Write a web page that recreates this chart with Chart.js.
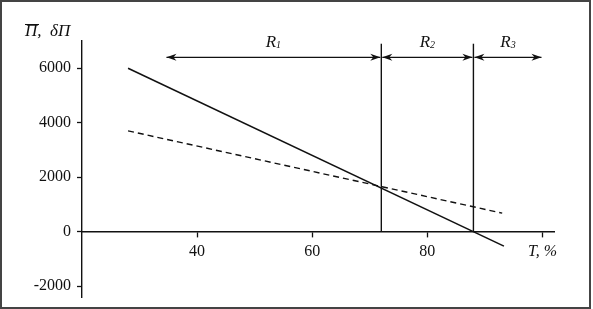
<!DOCTYPE html>
<html>
<head>
<meta charset="utf-8">
<script src="https://cdn.jsdelivr.net/npm/chart.js@4.4.0/dist/chart.umd.min.js"></script>
<style>
    html, body { margin: 0; padding: 0; background: #fff; }
    #wrap { width: 593px; height: 309px; }
</style>
</head>
<body>
<div id="wrap"><canvas id="chart" width="593" height="309"></canvas></div>
<script>
// Values
const tLine = [28, 93.3];
const avgProfit = [6000, -530];      // solid line
const tDash = [28, 93];
const deltaProfit = [3700, 680];     // dashed line
const boundaries = [72, 88];
const boundaryTop = 6900;
const zones = [[34.5, 72], [72, 88], [88, 100]];
const zoneNames = ['1', '2', '3'];
const zoneArrowY = 6400;
const xTicks = [40, 60, 80, 100];
const yTicks = [-2000, 0, 2000, 4000, 6000];

const serif = "'Liberation Serif', 'Times New Roman', serif";
const ink = '#111';

function toPoints(xs, ys) {
    return xs.map((x, i) => ({ x: x, y: ys[i] }));
}

const datasets = [
    {
        data: toPoints(tLine, avgProfit),
        borderColor: ink,
        borderWidth: 1.5,
        pointRadius: 0
    },
    {
        data: toPoints(tDash, deltaProfit),
        borderColor: ink,
        borderWidth: 1.4,
        borderDash: [6, 4],
        pointRadius: 0
    }
];
boundaries.forEach(b => {
    datasets.push({
        data: [{ x: b, y: 0 }, { x: b, y: boundaryTop }],
        borderColor: ink,
        borderWidth: 1.4,
        pointRadius: 0
    });
});

// Frame, zone arrows and labels
const decorPlugin = {
    id: 'decor',
    beforeDraw(chart) {
        const ctx = chart.ctx;
        ctx.save();
        ctx.fillStyle = '#fff';
        ctx.fillRect(0, 0, chart.width, chart.height);
        ctx.restore();
    },
    afterDraw(chart) {
        const ctx = chart.ctx;
        const xs = chart.scales.x;
        const ys = chart.scales.y;
        ctx.save();

        // outer frame
        ctx.strokeStyle = '#444';
        ctx.lineWidth = 2;
        ctx.strokeRect(1, 1, chart.width - 4, chart.height - 2);

        // zone arrows
        const ay = ys.getPixelForValue(zoneArrowY);
        ctx.strokeStyle = ink;
        ctx.fillStyle = ink;
        ctx.lineWidth = 1.4;
        zones.forEach((z, i) => {
            const x1 = xs.getPixelForValue(z[0]) + 1;
            const x2 = xs.getPixelForValue(z[1]) - 1;
            ctx.beginPath();
            ctx.moveTo(x1, ay);
            ctx.lineTo(x2, ay);
            ctx.stroke();
            [[x1, 1], [x2, -1]].forEach(([tx, dir]) => {
                ctx.beginPath();
                ctx.moveTo(tx, ay);
                ctx.lineTo(tx + dir * 10, ay - 3.5);
                ctx.lineTo(tx + dir * 7, ay);
                ctx.lineTo(tx + dir * 10, ay + 3.5);
                ctx.closePath();
                ctx.fill();
            });

            // label R with subscript
            const cx = (x1 + x2) / 2;
            ctx.font = 'italic 17px ' + serif;
            ctx.textBaseline = 'alphabetic';
            const wR = ctx.measureText('R').width;
            ctx.font = 'italic 10px ' + serif;
            const wS = ctx.measureText(zoneNames[i]).width;
            const left = cx - (wR + wS) / 2;
            ctx.font = 'italic 17px ' + serif;
            ctx.textAlign = 'left';
            ctx.fillText('R', left, ay - 10);
            ctx.font = 'italic 10px ' + serif;
            ctx.fillText(zoneNames[i], left + wR, ay - 9);
        });

        // axis title
        ctx.font = 'italic 17px ' + serif;
        ctx.textAlign = 'left';
        ctx.fillStyle = ink;
        ctx.fillText('\u03A0,', 25, 36);
        ctx.fillText('\u03B4\u03A0', 50, 36);
        ctx.beginPath();
        ctx.lineWidth = 1;
        ctx.moveTo(25, 24.5);
        ctx.lineTo(39, 24.5);
        ctx.stroke();

        ctx.restore();
    }
};

new Chart(document.getElementById('chart'), {
    type: 'line',
    data: { datasets: datasets },
    options: {
        responsive: false,
        animation: false,
        devicePixelRatio: 1,
        layout: { padding: { top: 41, right: 39, bottom: 12, left: 0 } },
        plugins: {
            legend: { display: false },
            tooltip: { enabled: false }
        },
        scales: {
            x: {
                type: 'linear',
                min: 20,
                max: 102,
                position: { y: 0 },
                afterBuildTicks: s => { s.ticks = xTicks.map(v => ({ value: v })); },
                afterFit: s => { s.height = 0; s.paddingLeft = 0; s.paddingRight = 0; },
                grid: { drawOnChartArea: false, drawTicks: true, tickLength: 5, tickColor: ink, tickWidth: 1.3 },
                border: { display: true, color: ink, width: 1.4 },
                ticks: {
                    padding: 6,
                    color: ink,
                    maxRotation: 0,
                    font: c => (c.tick && c.tick.value === 100)
                        ? { family: serif, size: 16, style: 'italic' }
                        : { family: serif, size: 16 },
                    callback: v => v === 100 ? 'T, %' : String(v)
                }
            },
            y: {
                type: 'linear',
                min: -2400,
                max: 7000,
                position: 'left',
                afterFit: s => { s.width = 82; s.paddingTop = 0; s.paddingBottom = 0; },
                afterBuildTicks: s => { s.ticks = yTicks.map(v => ({ value: v })); },
                grid: { drawOnChartArea: false, drawTicks: true, tickLength: 5, tickColor: ink, tickWidth: 1.3 },
                border: { display: true, color: ink, width: 1.4 },
                ticks: {
                    padding: 6,
                    color: ink,
                    font: { family: serif, size: 16 },
                    callback: v => String(v)
                }
            }
        }
    },
    plugins: [decorPlugin]
});
</script>
</body>
</html>
